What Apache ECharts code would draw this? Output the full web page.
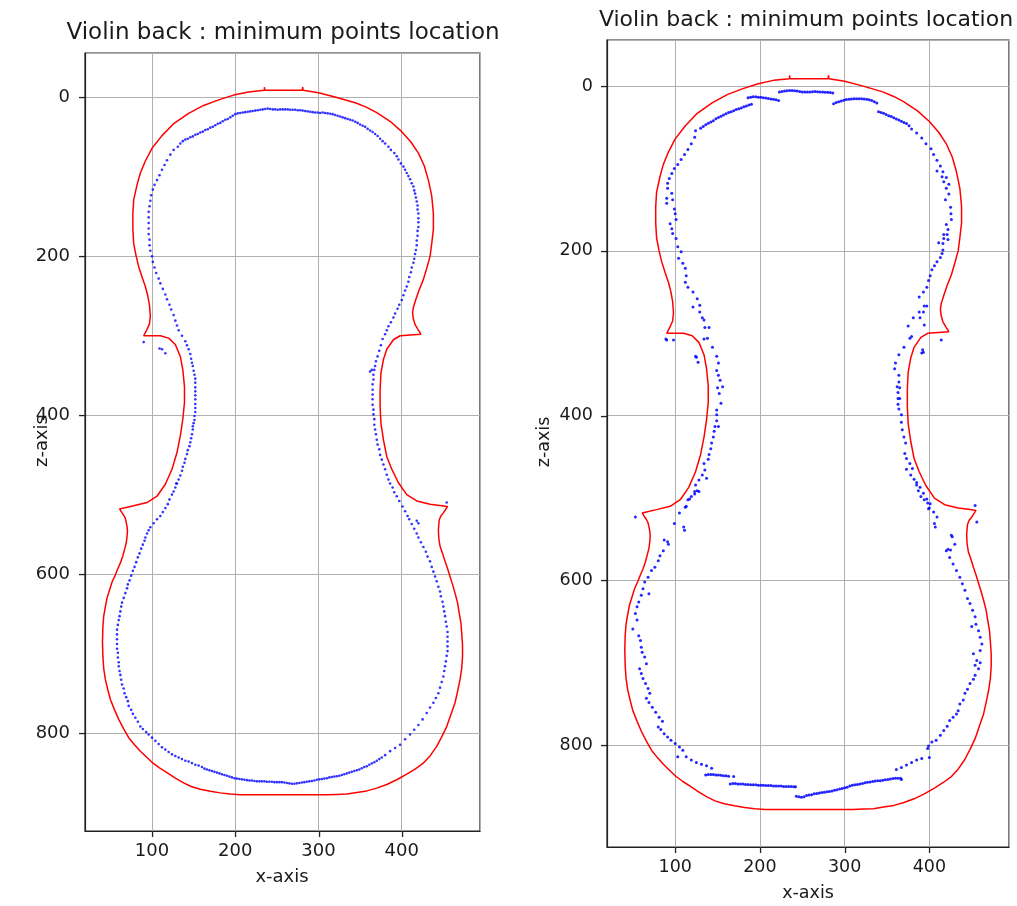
<!DOCTYPE html>
<html><head><meta charset="utf-8">
<script src="https://cdn.jsdelivr.net/npm/echarts@6/dist/echarts.min.js"></script>
<style>html,body{margin:0;padding:0;background:#fff}#c{width:1017px;height:906px}</style>
</head><body><div id="c"></div>
<script>
const titleText = 'Violin back : minimum points location';
const xName = 'x-axis';
const zName = 'z-axis';
const xTicks = [100, 200, 300, 400];
const zTicks = [0, 200, 400, 600, 800];

// red violin outline (same in both panels)
const outline = [
[235,-9],[235,-13],[235.5,-9],[258,-9],[280.5,-9],[281,-13],[281.5,-9],
[300,-6],[322,0],[345,7],[358,12.5],[370,19],[386,30],[400,43],[411,56],[420,70],[427,86],[432,104],[436,124],[438,146],[438,166],[436,184],[434,200],[430,215],[426,229],[421,242],[417,254],[414,264],[413,271],[414,279],[416,286],[420,293],[423,298],[424,300],
[398,300],[390,305],[382,317],[378,330],[375,347],[374,368],[374,389],[375,410],[378,431],[382,452],[388,468],[396,485],[406,500],[418,508],[434,512],[448,514],[455,515],
[450,523],[447,527],[445,532],[444.5,538],[444,544],[444.5,555],[446,565],[449,574],[452,584],[455,593],[458,603],[461,613],[464,624],[467,636],[469,649],[471,661],[472,674],[473,689],[473,704],[472,719],[470,733],[467,748],[464,762],[459,777],[454,792],[448,805],[442,817],[434,829],[426,838],[416,845.5],[406,852],[394,859],[382,865],[370,869.5],[358,873],[346,875],[334,877],[322,877.5],[310,878],
[206,878],[194,877],[182,875.5],[170,873.5],[158,871],[147,867.5],[138,863],[128,857],[118,850],[109,844],[100,837],[93,830],[86,823],[79,815],[72,806],[66,795],[60,783],[55,771],[50,758],[47,746],[44,733],[42,719],[41,704],[40.5,685],[41,666],[42,653],[44,641],[46,630],[49,620],[52,610],[56,601],[59,593],[62,586],[65,577],[67,569],[69,561],[70,553],[70.5,546],[70,540],[69,535],[68,530],[66,526],[64,523],[61,518],
[62,516],[78,514],[94,510],[106,502],[116,487],[124,468],[130,447],[134,426],[137,405],[139,384],[139,364],[137,343],[134,326],[128,311],[120,303],[110,300],[90,300],
[90,298],[94,292],[97,285],[98,275],[97,262],[95,250],[92,238],[88,226],[84,213],[81,200],[78,184],[77,166],[77,146],[78,129],[82,110],[86,95],[92,80],[100,64],[112,48],[126,33],[144,20],[162,10],[180,3],[198,-3],[216,-7],[235,-9]
];

// blue minimum points, left panel
const leftPoints = [
[131,62],[134,58],[137,55],[140,53],[143,52],[146,50],[149,49],[152,47],[155,46],[158,44],[161,43],[164,41],[167,40],[170,38],[173,37],[176,35],[179,33],[182,32],[185,30],[188,28],[191,27],[194,25],[197,23],[200,21],[203,20],[206,19.5],[209,19],[212,18.5],[215,18],[218,17.5],[221,17],[224,16.5],[227,16],[230,15.5],[233,15],[236,14.5],[239,14],[242,14.5],[245,15],[248,15],[251,15.5],[254,15],[257,15],[260,15],[263,15],[266,15.5],[269,15.5],[272,15.5],[275,16],[278,16],[281,16.5],[284,17],[287,17.5],[290,18],[293,18.5],[296,19],[299,19],[302,19.5],[305,19],[308,19.5],[311,20],[314,20.5],[317,21],[320,22],[323,23],[326,24],[329,25],[332,26],[335,27],[338,28],[341,29],[344,30.5],[347,32],[350,34],[353,35.5],[356,37],[359,39.5],[362,41.5],[365,43.5],[368,46],[371,48.5],[374,52],
[126,66],[122,72],[118,79],[115,85],[112,91],[109,98],[106,104],[103,110],[101,116],[99,123],[98,130],[97,137],[96,144],[96,151],[96,158],[96,165],[96,172],[97,179],[97,186],[98,193],[100,200],[101,207],[103,214],[105,221],[108,228],[110,234],[113,241],[116,248],[118,254],[121,261],[123,267],[126,274],[128,281],[130,287],[132,293],
[136,300],[140,307],[142,312],[144,317],[146,323],[147,329],[148,334],[149,338],[150,344],[151,349],[152,354],[152,359],[152,365],[152,370],[152,375],[152,380],[152,386],[152,391],[152,396],[151,401],[151,406],[150,410],[149,414],[149,418],[148,424],[147,429],[146,434],[145,439],[143,444],[142,449],[140,455],[139,460],[137,465],[136,470],[134,476],[132,481],[130,486],[128,491],[126,496],[124,500],[121,506],[119,512],
[90,308],[109,316],[112,317],[116,322],[129,486],
[116,517],[113,522],[110,527],[106,531],[102,536],[98,541],[96,545],[94,549],[92,554],[91,558],[89,563],[87,568],[85,574],[83,579],[81,585],[79,591],[77,596],[75,602],[73,608],[71,613],[70,618],[68,624],[66,630],[64,636],[63,641],[62,647],[61,653],[60,658],[59,664],[58,670],[58,676],[58,682],[58,688],[58,694],[59,699],[59,705],[60,711],[60,716],[61,722],[62,727],[63,733],[64,739],[66,744],[67,750],[69,755],[71,760],[72,766],[75,771],[77,776],[80,781],[83,786],[86,792],[89,795],[93,799],[96,802],[100,806],[104,810],[108,814],[112,818],[116,821],[120,824],[124,827],[128,829],[132,831],[136,833],[140,835],[144,836],[148,838],[152,840],[156,841],[160,843],
[163,845],[166,846],[169,847],[172,848],[175,849],[178,850],[181,851],[184,852],[187,853],[190,854],[193,855],[196,856],[199,857],[202,857.5],[205,858],[208,858.5],[211,859],[214,859.5],[217,860],[220,860],[223,860.5],[226,861],[229,861],[232,861],[235,861],[238,861.5],[241,861.5],[244,861.5],[247,862],[250,862],[253,862],[256,862],[259,862.5],[262,863],[265,863.5],[268,864],[271,864],[274,863.5],[277,863],[280,862.5],[283,862],[286,861.5],[289,861],[292,860.5],[295,860],[298,859],[301,858.5],[304,858],[307,857.5],[310,857],[313,856],[316,855.5],[319,855],[322,854.5],[325,854],[328,853],[331,852],[334,851],[337,850],[340,849],[343,848],[346,847],[349,846],[352,844.5],[355,843],[358,842],[361,840],[364,838.5],[367,837],[370,835],[373,833],[376,831],
[380,828],[386,823],[392,819],[398,815],[404,808],[410,802],[415,796],[420,790],[425,783],[430,775],[434,768],[438,762],[441,756],[444,750],[446,743],[448,736],[450,729],[451,722],[452,716],[453,710],[454,703],[455,697],[455,691],[455,685],[455,679],[455,673],[454,666],[453,660],[452,653],[451,647],[450,641],[449,635],[447,628],[446,622],[444,616],[442,609],[440,603],[438,597],[436,591],[434,584],[431,578],[429,572],[426,566],[423,560],[420,554],[418,549],[415,543],[412,537],[409,531],[407,527],[404,521],[401,515],
[454,510],[418,533],[420,536],
[397,508],[394,502],[391,497],[389,491],[386,486],[384,481],[382,475],[380,468],[378,462],[376,456],[374,450],[373,443],[371,437],[370,431],[369,424],[368,418],[367,412],[367,405],[366,399],[366,393],[365,387],[365,380],[365,374],[365,368],[365,361],[366,355],[366,349],[367,343],[368,338],[369,332],[371,326],[373,319],[375,312],[377,304],[380,298],
[364,343],[362,345],
[377,55],[380,58],[384,62],[387,66],[391,70],[394,74],[396,78],[399,83],[402,87],[404,91],[406,95],[408,99],[410,103],[412,108],[414,112],[415,117],[416,121],[417,126],[418,131],[419,136],[419,141],[420,146],[420,152],[420,157],[420,163],[419,168],[419,174],[418,180],[418,186],[417,192],[416,197],[415,203],[414,208],[412,214],[411,220],[409,226],[408,232],[406,238],[404,243],[402,249],[400,255],[397,261],[395,266],[392,272],[390,277],[387,283],[384,288],[382,293]
];

// blue minimum points, right panel
const rightPoints = [
[130,51],[133,49],[136,47],[139,45],[142,43.5],[145,42],[148,39.5],[151,38],[154,36.5],[157,35],[160,33.5],[163,32],[166,31],[169,30],[172,28.5],[175,27.5],[178,26.5],[181,25],[184,24],[187,23],[190,22],
[186,14],[189,13.5],[192,13],[195,13],[198,13.5],[201,13.5],[204,14],[207,14.5],[210,15],[213,15.5],[216,16],[219,16.5],[222,17.5],
[223,7],[226,6.5],[229,6],[232,5.7],[235,5.4],[238,5.2],[241,5.5],[244,6],[247,6.5],[250,7],[253,7],[256,7],[259,7],[262,6.7],[265,6.5],[268,6.8],[271,7],[274,7.2],[277,7.3],[280,7.5],[283,7.8],[286,8.2],
[287,21.5],[290,20],[293,19],[296,18],[299,17],[302,16.3],[305,15.8],[308,15.5],[311,15.4],[314,15.4],[317,15.4],[320,15.4],[323,15.7],[326,16],[329,16.6],[332,17.5],[335,19],[338,20.5],
[340,31],[343,32],[346,33],[349,34.5],[352,36],[355,37],[358,38.5],[361,40],[364,41],[367,42.5],[370,44],[373,45.5],[376,48],[379,52],
[385,57],[391,63],[396,70],[402,76],[405,83],[409,90],[413,97],[416,104],[409,103],[420,111],[415,110],[417,116],[423,119],[420,124],[423,131],[419,138],[425,147],[425.5,155],[426,162],[420,168],[422,174],[417,180],[421,180],[417,185],[422,186],[411,190],[416,191],[416,199],[415,203],[413,208],[409,213],[406,218],[403,223],[401,230],[399,236],[397,244],[393,250],[388,256],[397,267],[394,267],[393,274],[388,274],[381,281],[389,281],[394,290],[375,291],[414,308],[393,323],
[124,54],[123,62],[119,70],[115,77],[111,83],[107,89],[103,95],[99,100],[96,106],[93,112],[91,118],[91,124],[96,130],[97,138],[90,136],[90,142],[99,149],[100,155],[101,162],[94,167],[96,173],[97,179],[101,185],[103,195],[107,201],[104,209],[109,215],[112,221],[113,230],[112,238],[115,244],[121,250],[126,258],[121,268],[129,266],[129,274],[132,281],[134,284],[135,293],[140,293],[125,329],[90,308],[98,308],
[134,307],[138,306],[144,317],[149,328],[124,328],[127,335],[151,336],[149,345],[151,351],[153,357],[156,365],[150,366],[152,373],[154,385],[149,393],[149,399],[149,406],[151,413],[147,413],[146,419],[145,426],[143,433],[142,440],[140,447],[139,453],[134,458],[135,466],[137,476],[132,472],[128,478],[124,484],[126,491],[123,492],[119,498],[115,502],[113,510],[89,307],
[379,304],[377,306],[370,317],[364,326],[360,336],[359,343],[364,351],[364,359],[362,365],[365,366],[363,372],[363,379],[365,379],[363,386],[364,392],[367,399],[367,408],[368,417],[370,426],[372,433],[371,446],[373,452],[377,458],[373,465],[380,464],[378,472],[382,477],[385,484],[387,491],[390,498],[394,502],[398,506],[400,512],[391,324],[392,320],[454,509],
[53,523],[99,531],[105,518],[112,511],[117,501],[123,495],[128,492],[110,535],[111,539],
[91,553],[87,551],[92,556],[86,564],[82,570],[80,576],[76,584],[72,588],[68,596],[64,602],[69,616],[62,610],[60,618],[57,626],[55,632],[53,640],[50,659],[55,648],[57,667],[59,673],[60,681],[61,687],[64,693],[66,701],[58,707],[60,713],[62,719],[65,725],[68,731],[70,737],[66,743],[69,748],[73,754],[77,760],[81,766],[85,771],[80,778],[83,781],[87,786],[91,790],[95,794],[100,798],[105,802],[109,806],[103,814],[113,814],[119,818],[125,821],[131,823],[137,825],[143,828],
[136,836],[139,835.5],[142,835.5],[145,835.5],[148,836],[151,836],[154,836.5],[157,837],[160,837],[163,837.5],[169,838],
[165,847],[168,846.5],[171,846.5],[174,847],[177,847],[180,847],[183,847.5],[186,847.5],[189,848],[192,848],[195,848],[198,848.5],[201,848.5],[204,848.5],[207,849],[210,849],[213,849],[216,849.5],[219,849.5],[222,849.5],[225,849.5],[228,850],[231,850],[234,850],[237,850],[240,850.5],[242,850.5],
[243,862],[246,862.5],[249,863],[252,862.5],[255,861],[258,860.5],[261,860],[264,859],[267,858.5],[270,858],[273,857.5],[276,857],[279,856.5],[282,856],[285,855.5],[288,854.5],[291,854],[294,853],[297,852.5],[300,851.5],[303,851],[306,849.5],[309,848.5],[312,848],[315,847.5],[318,847],[321,846.5],[324,845.5],[327,845],[330,844.5],[333,844],[336,843.5],[339,843],[342,843],[345,842.5],[348,842],[351,841.5],[354,841],[357,840.5],[360,840],[363,840],[366,840],[367,841.5],
[361,829.5],[367,827],[373,824],[379,821],[385,818],[391,816],[400,815],[398,804],[399,801],[403,796],[408,794],[413,788],[417,782],[421,777],[424,770],[428,766],[432,762],[434,758],[436,750],[440,745],[442,737],[445,732],[448,725],[452,720],[454,715],[458,707],[460,700],[454,703],[456,697],[452,689],[460,685],[462,677],[460,669],[458,661],[455,653],[450,656],[454,644],[451,636],[448,628],[445,622],[442,612],[439,604],[436,596],[432,588],[428,580],[424,572],[420,564],[425,563],[422,562],[430,556],[427,547],[426,545],
[407,535],[406,531],[409,523],[405,517],[399,513],[401,507],[397,501],[393,494],[389,487],[385,481],[456,529]
];

const X_MIN = 19.5, X_MAX = 494, Z_MIN = -56, Z_MAX = 923.5;
const FONT = '"DejaVu Sans", "Liberation Sans", sans-serif';
const chart = echarts.init(document.getElementById('c'), null, {renderer: 'canvas'});

function onlyTicks(list) {
  return function (v) { return list.indexOf(Math.round(v * 1000) / 1000) >= 0 ? String(v) : ''; };
}
function xAxisFor(gi, fs) {
  return {
    type: 'value', gridIndex: gi, position: 'bottom', min: X_MIN, max: X_MAX, splitNumber: 5,
    axisLine: {show: true, onZero: false, lineStyle: {color: '#222', width: 1.2}},
    axisTick: {show: false},
    axisLabel: {show: true, margin: 11, color: '#1a1a1a', fontSize: fs, fontFamily: FONT, formatter: onlyTicks(xTicks)},
    splitLine: {show: true, lineStyle: {color: '#b0b0b0', width: 1}}
  };
}
function yAxisFor(gi, fs, margin) {
  return {
    type: 'value', gridIndex: gi, position: 'left', inverse: true, min: Z_MIN, max: Z_MAX, splitNumber: 5,
    axisLine: {show: true, onZero: false, lineStyle: {color: '#222', width: 1.2}},
    axisTick: {show: false},
    axisLabel: {show: true, margin: margin, color: '#1a1a1a', fontSize: fs, fontFamily: FONT, formatter: onlyTicks(zTicks)},
    splitLine: {show: true, lineStyle: {color: '#b0b0b0', width: 1}}
  };
}
function txt(x, y, text, fs, rot) {
  return {type: 'text', x: x, y: y, rotation: rot || 0, z: 100,
    style: {text: text, font: fs + 'px ' + FONT, fill: '#1a1a1a', align: 'center', verticalAlign: 'middle'}};
}

// outward tick marks drawn by custom series through the axis scales
function tickSeries(gi) {
  return [
    {type: 'custom', xAxisIndex: gi, yAxisIndex: gi, silent: true, clip: false, z: 20,
     data: xTicks.map(function (v) { return [v, Z_MAX]; }),
     renderItem: function (params, api) {
       const p = api.coord([api.value(0), api.value(1)]);
       const x = Math.round(p[0]) + 0.5;
       return {type: 'rect', shape: {x: x - 0.6, y: p[1], width: 1.3, height: 6}, style: {fill: '#222'}};
     }},
    {type: 'custom', xAxisIndex: gi, yAxisIndex: gi, silent: true, clip: false, z: 20,
     data: zTicks.map(function (v) { return [X_MIN, v]; }),
     renderItem: function (params, api) {
       const p = api.coord([api.value(0), api.value(1)]);
       const y = Math.round(p[1]) + 0.5;
       return {type: 'rect', shape: {x: p[0] - 6, y: y - 0.6, width: 6, height: 1.3}, style: {fill: '#222'}};
     }}
  ];
}

chart.setOption({
  animation: false,
  backgroundColor: '#ffffff',
  grid: [
    {left: 85, top: 53, width: 395, height: 778, show: true, borderColor: '#222', borderWidth: 1.2, backgroundColor: 'transparent'},
    {left: 607, top: 40, width: 402, height: 807, show: true, borderColor: '#222', borderWidth: 1.2, backgroundColor: 'transparent'}
  ],
  xAxis: [xAxisFor(0, 18), xAxisFor(1, 17.5)],
  yAxis: [yAxisFor(0, 18, 15), yAxisFor(1, 17.5, 14)],
  graphic: [
    txt(283, 33, titleText, 23),
    txt(806, 20, titleText, 22),
    txt(282, 877, xName, 18),
    txt(808, 893, xName, 17.5),
    txt(42, 441, zName, 18, Math.PI / 2),
    txt(544, 442, zName, 17.5, Math.PI / 2)
  ],
  series: [
    {type: 'line', xAxisIndex: 0, yAxisIndex: 0, data: outline, showSymbol: false, symbol: 'none', smooth: false,
     lineStyle: {color: '#ff0000', width: 1.5}, z: 3, silent: true},
    {type: 'scatter', xAxisIndex: 0, yAxisIndex: 0, data: leftPoints, symbol: 'circle', symbolSize: 2.6,
     itemStyle: {color: '#0000ff', opacity: 0.8}, z: 4, silent: true},
    {type: 'line', xAxisIndex: 1, yAxisIndex: 1, data: outline, showSymbol: false, symbol: 'none', smooth: false,
     lineStyle: {color: '#ff0000', width: 1.5}, z: 3, silent: true},
    {type: 'scatter', xAxisIndex: 1, yAxisIndex: 1, data: rightPoints, symbol: 'circle', symbolSize: 3,
     itemStyle: {color: '#0000ff', opacity: 0.85}, z: 4, silent: true}
  ].concat(tickSeries(0), tickSeries(1))
});
</script></body></html>
